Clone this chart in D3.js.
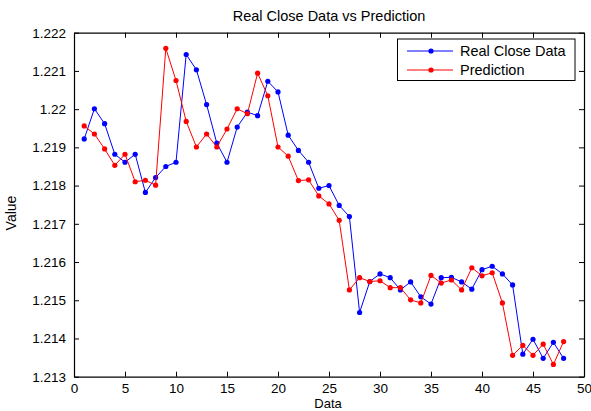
<!DOCTYPE html>
<html>
<head>
<meta charset="utf-8">
<script src="https://cdn.jsdelivr.net/npm/d3@7"></script>
<style>
  body { margin: 0; background: #fff; }
  svg text { font-family: "Liberation Sans", Arial, sans-serif; fill: #000; }
</style>
</head>
<body>
<div id="chart"></div>
<script>
// data
const days = d3.range(1, 49);
const realClose = [
  1.21922, 1.22001, 1.21962, 1.21882, 1.21861, 1.21882, 1.21782, 1.21821, 1.21850, 1.21861,
  1.22143, 1.22103, 1.22012, 1.21911, 1.21861, 1.21953, 1.21992, 1.21983, 1.22073, 1.22045,
  1.21932, 1.21892, 1.21861, 1.21793, 1.21800, 1.21748, 1.21719, 1.21468, 1.21549, 1.21569,
  1.21559, 1.21527, 1.21548, 1.21509, 1.21490, 1.21559, 1.21560, 1.21548, 1.21529, 1.21580,
  1.21589, 1.21569, 1.21540, 1.21359, 1.21398, 1.21348, 1.21390, 1.21348
];
const prediction = [
  1.21956, 1.21935, 1.21896, 1.21853, 1.21882, 1.21810, 1.21814, 1.21801, 1.22159, 1.22075,
  1.21968, 1.21901, 1.21935, 1.21901, 1.21948, 1.22001, 1.21988, 1.22094, 1.22035, 1.21901,
  1.21877, 1.21813, 1.21815, 1.21773, 1.21752, 1.21709, 1.21527, 1.21559, 1.21549, 1.21551,
  1.21533, 1.21533, 1.21501, 1.21493, 1.21565, 1.21545, 1.21553, 1.21527, 1.21585, 1.21564,
  1.21572, 1.21493, 1.21356, 1.21382, 1.21356, 1.21385, 1.21332, 1.21392
];
const xTicks = [0, 5, 10, 15, 20, 25, 30, 35, 40, 45, 50];
const yTicks = [1.213, 1.214, 1.215, 1.216, 1.217, 1.218, 1.219, 1.22, 1.221, 1.222];
const seriesNames = ["Real Close Data", "Prediction"];
const seriesColors = ["#0000ff", "#ff0000"];

const width = 591, height = 411;
const plotL = 74, plotR = 584, plotT = 32.7, plotB = 376.7;

const svg = d3.select("#chart").append("svg")
  .attr("width", width)
  .attr("height", height);

const x = d3.scaleLinear().domain([0, 50]).range([plotL, plotR]);
const y = d3.scaleLinear().domain([1.213, 1.222]).range([plotB, plotT]);
const fmt = d3.format(".4~f");

// box and ticks, matlab style (ticks pointing in, all four sides)
svg.append("g").attr("transform", "translate(0," + plotB + ")")
  .call(d3.axisBottom(x).tickValues(xTicks).tickSizeInner(-5).tickSizeOuter(0).tickPadding(7))
  .call(g => g.selectAll("text").style("font-size", "13.5px"));
svg.append("g").attr("transform", "translate(0," + plotT + ")")
  .call(d3.axisTop(x).tickValues(xTicks).tickSizeInner(-5).tickSizeOuter(0).tickFormat(""));
svg.append("g").attr("transform", "translate(" + plotL + ",0)")
  .call(d3.axisLeft(y).tickValues(yTicks).tickSizeInner(-5).tickSizeOuter(0).tickPadding(8).tickFormat(fmt))
  .call(g => g.selectAll("text").style("font-size", "13.5px"));
svg.append("g").attr("transform", "translate(" + plotR + ",0)")
  .call(d3.axisRight(y).tickValues(yTicks).tickSizeInner(-5).tickSizeOuter(0).tickFormat(""));
svg.selectAll(".domain").attr("stroke", "#000").attr("stroke-width", 1.2);
svg.selectAll(".tick line").attr("stroke", "#000");

const line = d3.line().x(d => x(d[0])).y(d => y(d[1]));
[realClose, prediction].forEach((vals, k) => {
  const pts = days.map((d, i) => [d, vals[i]]);
  svg.append("path")
    .datum(pts)
    .attr("d", line)
    .attr("fill", "none")
    .attr("stroke", seriesColors[k])
    .attr("stroke-width", 1);
  svg.append("g").selectAll("circle")
    .data(pts)
    .join("circle")
    .attr("cx", d => x(d[0]))
    .attr("cy", d => y(d[1]))
    .attr("r", 2.6)
    .attr("fill", seriesColors[k]);
});

// title and axis labels
svg.append("text").attr("x", 329).attr("y", 20.5).attr("text-anchor", "middle")
  .style("font-size", "14.5px").text("Real Close Data vs Prediction");
svg.append("text").attr("x", 328).attr("y", 408).attr("text-anchor", "middle")
  .style("font-size", "13px").text("Data");
svg.append("text").attr("transform", "translate(16,213) rotate(-90)").attr("text-anchor", "middle")
  .style("font-size", "14px").text("Value");

// legend
const legend = svg.append("g");
legend.append("rect")
  .attr("x", 397.5).attr("y", 39).attr("width", 177.5).attr("height", 41.5)
  .attr("fill", "#fff").attr("stroke", "#000").attr("stroke-width", 1);
seriesNames.forEach((name, k) => {
  const ly = 51 + k * 19;
  legend.append("line").attr("x1", 407).attr("x2", 453).attr("y1", ly).attr("y2", ly)
    .attr("stroke", seriesColors[k]).attr("stroke-width", 1);
  legend.append("circle").attr("cx", 431).attr("cy", ly).attr("r", 2.6).attr("fill", seriesColors[k]);
  legend.append("text").attr("x", 460).attr("y", ly + 5)
    .style("font-size", "14.5px").text(name);
});
</script>
</body>
</html>
